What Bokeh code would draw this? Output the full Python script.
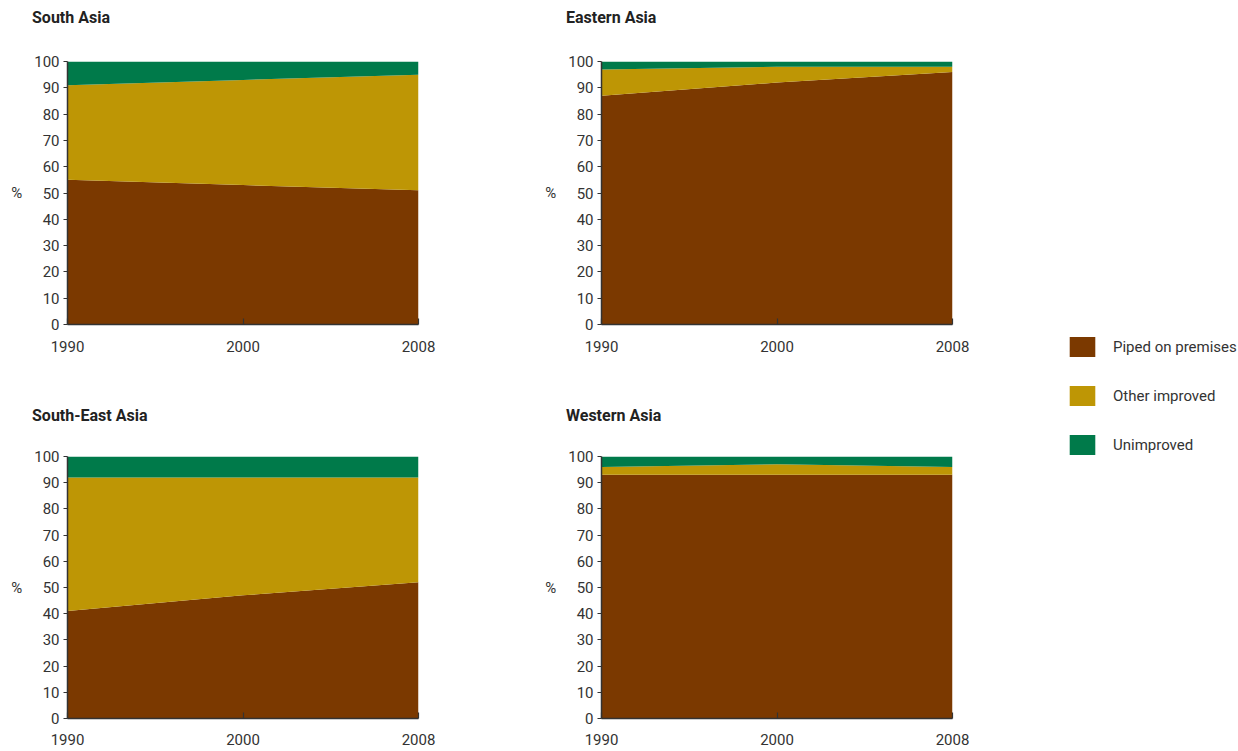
from bokeh.plotting import figure
from bokeh.models import ColumnDataSource, FixedTicker, Legend, LegendItem, Range1d, Div, Spacer
from bokeh.layouts import row, column
from bokeh.embed import file_html
from bokeh.resources import INLINE

years = ["1990", "2000", "2008"]
series_names = ["Piped on premises", "Other improved", "Unimproved"]
colors = ["#7B3900", "#BE9605", "#007A4A"]

south_asia_piped = [55, 53, 51]
south_asia_other = [36, 40, 44]
south_asia_unimproved = [9, 7, 5]

eastern_asia_piped = [87, 92, 96]
eastern_asia_other = [10, 6, 2]
eastern_asia_unimproved = [3, 2, 2]

south_east_asia_piped = [41, 47, 52]
south_east_asia_other = [51, 45, 40]
south_east_asia_unimproved = [8, 8, 8]

western_asia_piped = [93, 93, 93]
western_asia_other = [3, 4, 3]
western_asia_unimproved = [4, 3, 4]

y_ticks = list(range(0, 101, 10))

TEXT = "#333333"
FONT = "Roboto"

# the source chart spaces the three survey years evenly along the axis
x_pos = list(range(len(years)))


def title_div(name, width):
    return Div(text=name, width=width, height=20, margin=(0, 0, 0, 0),
               styles={"font-family": FONT, "font-size": "16px", "font-weight": "bold",
                       "color": "#222222", "line-height": "20px", "padding-left": "24px",
                       "white-space": "nowrap"})


def panel(piped, other, unimp, width, height, top_border, bottom_border, x_standoff):
    src = ColumnDataSource(dict(x=x_pos, piped=piped, other=other, unimp=unimp))
    p = figure(width=width, height=height, output_backend="svg", toolbar_location=None,
               x_range=Range1d(x_pos[0], x_pos[-1]), y_range=Range1d(0, 100),
               min_border_left=58, min_border_top=top_border, min_border_bottom=bottom_border,
               min_border_right=width - 58 - 352, title=None)
    p.varea_stack(stackers=["piped", "other", "unimp"], x="x", color=colors, source=src)
    p.outline_line_color = None
    p.grid.grid_line_color = None
    p.background_fill_color = "white"
    p.border_fill_color = "white"

    p.xaxis.ticker = FixedTicker(ticks=x_pos)
    p.xaxis.major_label_overrides = {i: y for i, y in zip(x_pos, years)}
    p.yaxis.ticker = FixedTicker(ticks=y_ticks)
    for ax in (p.xaxis, p.yaxis):
        ax.axis_line_color = TEXT
        ax.axis_line_width = 1.5
        ax.major_tick_line_color = TEXT
        ax.major_tick_line_width = 1.2
        ax.minor_tick_line_color = None
        ax.major_label_text_font = FONT
        ax.major_label_text_font_size = "15px"
        ax.major_label_text_color = TEXT
    p.xaxis.major_tick_in = 6
    p.xaxis.major_tick_out = 0
    p.xaxis.major_label_standoff = x_standoff
    p.yaxis.major_tick_in = 0
    p.yaxis.major_tick_out = 4
    p.yaxis.major_label_standoff = 4
    p.yaxis.axis_label = "%"
    p.yaxis.axis_label_orientation = "horizontal"
    p.yaxis.axis_label_standoff = 9
    p.yaxis.axis_label_text_font = FONT
    p.yaxis.axis_label_text_font_size = "15px"
    p.yaxis.axis_label_text_font_style = "normal"
    p.yaxis.axis_label_text_color = TEXT
    return p


W1, W2 = 534, 460
p1 = panel(south_asia_piped, south_asia_other, south_asia_unimproved, W1, 378, 33, 82, 16)
p2 = panel(eastern_asia_piped, eastern_asia_other, eastern_asia_unimproved, W2, 378, 33, 82, 16)
p3 = panel(south_east_asia_piped, south_east_asia_other, south_east_asia_unimproved, W1, 325, 30, 33, 15)
p4 = panel(western_asia_piped, western_asia_other, western_asia_unimproved, W2, 325, 30, 33, 15)

# legend figure
lf = figure(width=236, height=751, output_backend="svg", toolbar_location=None,
            x_range=Range1d(0, 1), y_range=Range1d(0, 1), min_border=0)
lf.axis.visible = False
lf.grid.grid_line_color = None
lf.outline_line_color = None
items = []
swatch = ColumnDataSource(dict(x=[5, 6], y1=[0, 0], y2=[1, 1]))  # lies outside the visible range
for name, c in zip(series_names, colors):
    r = lf.varea(x="x", y1="y1", y2="y2", color=c, source=swatch)
    items.append(LegendItem(label=name, renderers=[r]))
leg = Legend(items=items, location=(64, 294), padding=0, margin=0, spacing=24,
             glyph_width=32, glyph_height=25, label_height=25, label_standoff=15,
             label_text_font=FONT, label_text_font_size="15px", label_text_color=TEXT,
             border_line_color=None, background_fill_alpha=0)
lf.add_layout(leg, "center")

layout = row(
    Spacer(width=8),
    column(Spacer(height=8), title_div("South Asia", W1), p1, title_div("South-East Asia", W1), p3),
    column(Spacer(height=8), title_div("Eastern Asia", W2), p2, title_div("Western Asia", W2), p4),
    lf,
)

open("out.html", "w").write(file_html(layout, INLINE))
